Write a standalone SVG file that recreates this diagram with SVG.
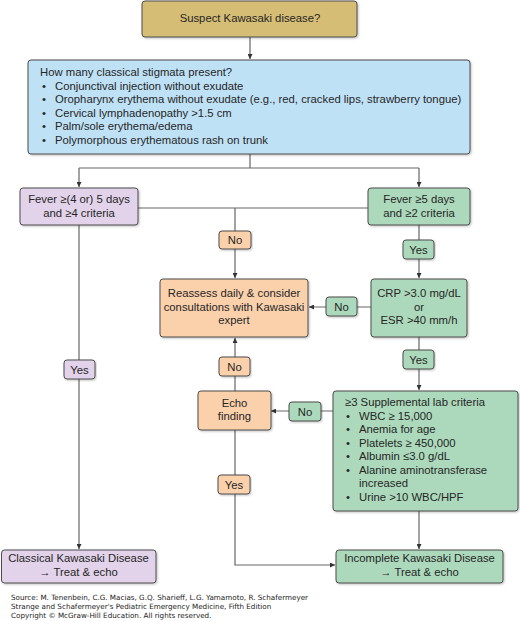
<svg xmlns="http://www.w3.org/2000/svg" width="520" height="621" viewBox="0 0 520 621">
<style>
text{font-family:"Liberation Sans",Arial,sans-serif;font-size:11.3px;fill:#262626}
.c{text-anchor:middle}
.box{stroke:#4d4d4d;stroke-width:1}
.tan{fill:#d6bd74}
.blue{fill:#bfe1f5}
.pur{fill:#e2d3ea}
.grn{fill:#acd9bb}
.org{fill:#fbd1ac}
.ln{fill:none;stroke:#666;stroke-width:1.2}
.src{font-family:"DejaVu Sans",Verdana,sans-serif;font-size:7.2px;fill:#222}
</style>
<defs>
<marker id="ah" viewBox="0 0 10 10" refX="10" refY="5" markerWidth="5" markerHeight="5" orient="auto" markerUnits="userSpaceOnUse">
<path d="M0,0 L10,5 L0,10 z" fill="#333"/>
</marker>
<filter id="sh" x="-5%" y="-5%" width="110%" height="120%">
<feDropShadow dx="1" dy="1" stdDeviation="0.8" flood-color="#000" flood-opacity="0.25"/>
</filter>
</defs>

<g id="connectors">
<path class="ln" d="M250,37 V59" marker-end="url(#ah)"/>
<path class="ln" d="M250,154 V168 M79,168 H419"/>
<path class="ln" d="M79,168 V187" marker-end="url(#ah)"/>
<path class="ln" d="M419,168 V187" marker-end="url(#ah)"/>
<path class="ln" d="M138,208 H368"/>
<path class="ln" d="M235,208 V278" marker-end="url(#ah)"/>
<path class="ln" d="M79,225 V549" marker-end="url(#ah)"/>
<path class="ln" d="M419,225 V278" marker-end="url(#ah)"/>
<path class="ln" d="M371,307 H309" marker-end="url(#ah)"/>
<path class="ln" d="M419,337 V390" marker-end="url(#ah)"/>
<path class="ln" d="M333,411 H271" marker-end="url(#ah)"/>
<path class="ln" d="M235,391 V338" marker-end="url(#ah)"/>
<path class="ln" d="M235,430 V565 H335" marker-end="url(#ah)"/>
<path class="ln" d="M419,511 V549" marker-end="url(#ah)"/>
</g>

<g id="n-suspect">
<rect class="box tan" x="142" y="1" width="215" height="36" rx="3" filter="url(#sh)"/>
<text class="c" x="250" y="22">Suspect Kawasaki disease?</text>
</g>

<g id="n-stigmata">
<rect class="box blue" x="28" y="60" width="442" height="94" rx="3" filter="url(#sh)"/>
<text x="40" y="76">How many classical stigmata present?</text>
<text x="42" y="89.5">•</text><text x="55" y="89.5">Conjunctival injection without exudate</text>
<text x="42" y="103">•</text><text x="55" y="103">Oropharynx erythema without exudate (e.g., red, cracked lips, strawberry tongue)</text>
<text x="42" y="116.5">•</text><text x="55" y="116.5">Cervical lymphadenopathy &gt;1.5 cm</text>
<text x="42" y="130">•</text><text x="55" y="130">Palm/sole erythema/edema</text>
<text x="42" y="143.5">•</text><text x="55" y="143.5">Polymorphous erythematous rash on trunk</text>
</g>

<g id="n-fever4">
<rect class="box pur" x="20" y="188" width="118" height="37" rx="3" filter="url(#sh)"/>
<text class="c" x="79" y="203">Fever ≥(4 or) 5 days</text>
<text class="c" x="79" y="217">and ≥4 criteria</text>
</g>

<g id="n-fever5">
<rect class="box grn" x="368" y="188" width="102" height="37" rx="3" filter="url(#sh)"/>
<text class="c" x="419" y="203">Fever ≥5 days</text>
<text class="c" x="419" y="217">and ≥2 criteria</text>
</g>

<g id="l-no1">
<rect class="box org" x="219" y="231" width="32" height="18" rx="3" filter="url(#sh)"/>
<text class="c" x="235" y="244">No</text>
</g>

<g id="l-yes1">
<rect class="box grn" x="403" y="240" width="31" height="19" rx="3" filter="url(#sh)"/>
<text class="c" x="418.5" y="253.5">Yes</text>
</g>

<g id="n-reassess">
<rect class="box org" x="160" y="279" width="148" height="58" rx="3" filter="url(#sh)"/>
<text class="c" x="234" y="297">Reassess daily &amp; consider</text>
<text class="c" x="234" y="311">consultations with Kawasaki</text>
<text class="c" x="234" y="324">expert</text>
</g>

<g id="n-crp">
<rect class="box grn" x="371" y="279" width="96" height="58" rx="3" filter="url(#sh)"/>
<text class="c" x="419" y="297">CRP &gt;3.0 mg/dL</text>
<text class="c" x="419" y="311">or</text>
<text class="c" x="419" y="324">ESR &gt;40 mm/h</text>
</g>

<g id="l-no2">
<rect class="box grn" x="326" y="297" width="31" height="19" rx="3" filter="url(#sh)"/>
<text class="c" x="341.5" y="310.5">No</text>
</g>

<g id="l-yes2">
<rect class="box grn" x="403" y="350" width="31" height="19" rx="3" filter="url(#sh)"/>
<text class="c" x="418.5" y="363.5">Yes</text>
</g>

<g id="l-yes-classic">
<rect class="box pur" x="64" y="360" width="31" height="19" rx="3" filter="url(#sh)"/>
<text class="c" x="79.5" y="373.5">Yes</text>
</g>

<g id="l-no3">
<rect class="box org" x="219" y="357" width="31" height="19" rx="3" filter="url(#sh)"/>
<text class="c" x="234.5" y="370.5">No</text>
</g>

<g id="n-echo">
<rect class="box org" x="198" y="391" width="73" height="39" rx="3" filter="url(#sh)"/>
<text class="c" x="234.5" y="407">Echo</text>
<text class="c" x="234.5" y="420">finding</text>
</g>

<g id="l-no4">
<rect class="box grn" x="289" y="402" width="32" height="19" rx="3" filter="url(#sh)"/>
<text class="c" x="305" y="415.5">No</text>
</g>

<g id="n-supp">
<rect class="box grn" x="333" y="391" width="185" height="120" rx="3" filter="url(#sh)"/>
<text x="345" y="406">≥3 Supplemental lab criteria</text>
<text x="346" y="419.5">•</text><text x="359" y="419.5">WBC ≥ 15,000</text>
<text x="346" y="433">•</text><text x="359" y="433">Anemia for age</text>
<text x="346" y="446.5">•</text><text x="359" y="446.5">Platelets ≥ 450,000</text>
<text x="346" y="460">•</text><text x="359" y="460">Albumin ≤3.0 g/dL</text>
<text x="346" y="473.5">•</text><text x="359" y="473.5">Alanine aminotransferase</text>
<text x="359" y="487">increased</text>
<text x="346" y="500.5">•</text><text x="359" y="500.5">Urine &gt;10 WBC/HPF</text>
</g>

<g id="l-yes3">
<rect class="box org" x="218" y="475" width="32" height="19" rx="3" filter="url(#sh)"/>
<text class="c" x="234" y="488.5">Yes</text>
</g>

<g id="n-classical">
<rect class="box pur" x="1.5" y="550" width="154.5" height="33" rx="3" filter="url(#sh)"/>
<text class="c" x="78.5" y="562">Classical Kawasaki Disease</text>
<text class="c" x="78.5" y="576">→ Treat &amp; echo</text>
</g>

<g id="n-incomplete">
<rect class="box grn" x="336" y="550" width="167" height="33" rx="3" filter="url(#sh)"/>
<text class="c" x="419.5" y="562">Incomplete Kawasaki Disease</text>
<text class="c" x="419.5" y="576">→ Treat &amp; echo</text>
</g>

<g id="source">
<text class="src" x="11" y="600">Source: M. Tenenbein, C.G. Macias, G.Q. Sharieff, L.G. Yamamoto, R. Schafermeyer</text>
<text class="src" x="11" y="609">Strange and Schafermeyer's Pediatric Emergency Medicine, Fifth Edition</text>
<text class="src" x="11" y="618">Copyright © McGraw-Hill Education. All rights reserved.</text>
</g>
</svg>
